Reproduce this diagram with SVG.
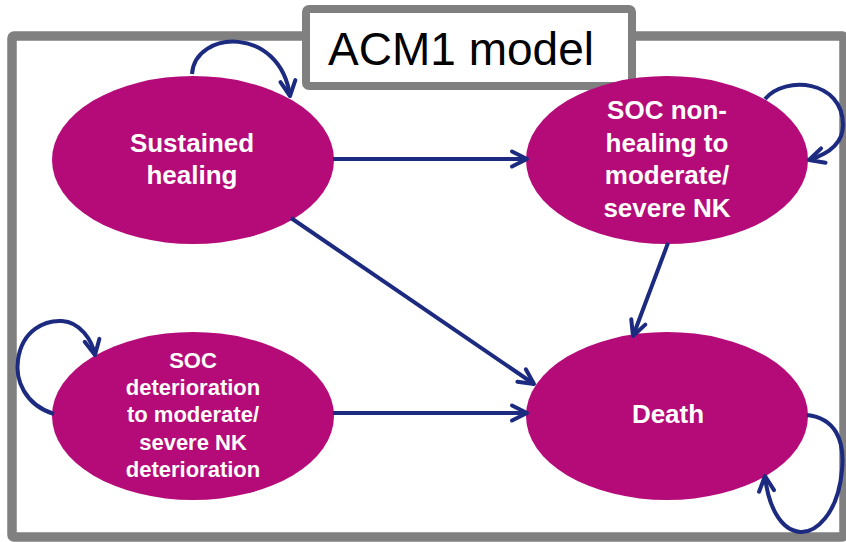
<svg xmlns="http://www.w3.org/2000/svg" width="846" height="542" viewBox="0 0 846 542">
<style>
.node{fill:#B40B79}
.lbl{font-family:"Liberation Sans",Arial,sans-serif;font-weight:bold;fill:#ffffff;text-anchor:middle}
.big{font-size:26px}
.small{font-size:22px}
.edge{fill:none;stroke:#1C2A80;stroke-width:4;marker-end:url(#arr)}
</style>
<defs>
<marker id="arr" markerUnits="userSpaceOnUse" viewBox="-18 -10 22 20" refX="0" refY="0" markerWidth="22" markerHeight="20" orient="auto" overflow="visible">
<path d="M-15,-7.5 L0,0 L-15,7.5" fill="none" stroke="#1C2A80" stroke-width="4" stroke-linecap="round" stroke-linejoin="round"/>
</marker>
</defs>
<rect width="846" height="542" fill="#ffffff"/>
<rect x="12" y="36" width="832" height="501" rx="2" fill="none" stroke="#808080" stroke-width="9.5"/>
<g id="title">
<rect x="306" y="9" width="326" height="77" rx="3" fill="#ffffff" stroke="#808080" stroke-width="8"/>
<text x="461" y="65" font-family="'Liberation Sans',Arial,sans-serif" font-size="46" fill="#000000" text-anchor="middle">ACM1 model</text>
</g>
<g id="sustained">
<ellipse class="node" cx="193" cy="160" rx="141" ry="84"/>
<text class="lbl big" x="192" y="152">Sustained</text>
<text class="lbl big" x="192" y="184">healing</text>
</g>
<g id="nonhealing">
<ellipse class="node" cx="667" cy="160" rx="141" ry="84"/>
<text class="lbl big" x="667" y="119">SOC non-</text>
<text class="lbl big" x="667" y="152">healing to</text>
<text class="lbl big" x="667" y="184">moderate/</text>
<text class="lbl big" x="667" y="217">severe NK</text>
</g>
<g id="deterioration">
<ellipse class="node" cx="193" cy="416" rx="141" ry="84"/>
<text class="lbl small" x="193" y="368">SOC</text>
<text class="lbl small" x="193" y="395">deterioration</text>
<text class="lbl small" x="193" y="422">to moderate/</text>
<text class="lbl small" x="193" y="450">severe NK</text>
<text class="lbl small" x="193" y="477">deterioration</text>
</g>
<g id="death">
<ellipse class="node" cx="667" cy="416" rx="141" ry="84"/>
<text class="lbl big" x="668" y="423">Death</text>
</g>
<g id="connectors">
<path class="edge" d="M333,159 L527,159"/>
<path class="edge" d="M291,218 L534,384"/>
<path class="edge" d="M668,243 L633,336"/>
<path class="edge" d="M333,413 L527,413"/>
<path class="edge" d="M192,74 C195,30 280,25 290,96"/>
<path class="edge" d="M765,99 C785,75 843,80 843,125 C843,145 825,155 809,160"/>
<path class="edge" d="M54,414 C25,405 15,380 18,360 C22,330 45,320 62,321 C80,322 92,340 95,355"/>
<path class="edge" d="M807,415 C835,418 845,440 842,470 C838,515 815,533 800,532 C780,530 768,505 765,476"/>
</g>
</svg>
